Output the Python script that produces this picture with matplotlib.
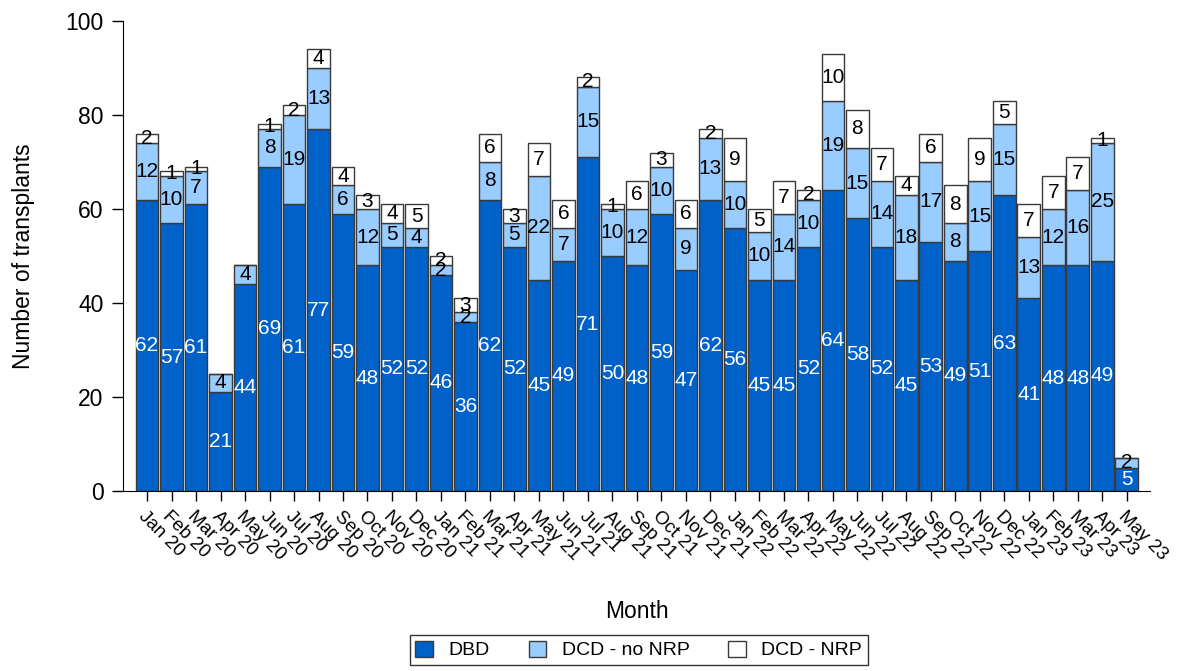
import numpy as np
import matplotlib.pyplot as plt

plt.rcParams['font.family'] = ['Liberation Sans', 'DejaVu Sans']

months = ['Jan 20', 'Feb 20', 'Mar 20', 'Apr 20', 'May 20', 'Jun 20', 'Jul 20', 'Aug 20',
          'Sep 20', 'Oct 20', 'Nov 20', 'Dec 20',
          'Jan 21', 'Feb 21', 'Mar 21', 'Apr 21', 'May 21', 'Jun 21', 'Jul 21', 'Aug 21',
          'Sep 21', 'Oct 21', 'Nov 21', 'Dec 21',
          'Jan 22', 'Feb 22', 'Mar 22', 'Apr 22', 'May 22', 'Jun 22', 'Jul 22', 'Aug 22',
          'Sep 22', 'Oct 22', 'Nov 22', 'Dec 22',
          'Jan 23', 'Feb 23', 'Mar 23', 'Apr 23', 'May 23']

dbd = [62, 57, 61, 21, 44, 69, 61, 77, 59, 48, 52, 52,
       46, 36, 62, 52, 45, 49, 71, 50, 48, 59, 47, 62,
       56, 45, 45, 52, 64, 58, 52, 45, 53, 49, 51, 63,
       41, 48, 48, 49, 5]
dcd_no_nrp = [12, 10, 7, 4, 4, 8, 19, 13, 6, 12, 5, 4,
              2, 2, 8, 5, 22, 7, 15, 10, 12, 10, 9, 13,
              10, 10, 14, 10, 19, 15, 14, 18, 17, 8, 15, 15,
              13, 12, 16, 25, 2]
dcd_nrp = [2, 1, 1, 0, 0, 1, 2, 4, 4, 3, 4, 5,
           2, 3, 6, 3, 7, 6, 2, 1, 6, 3, 6, 2,
           9, 5, 7, 2, 10, 8, 7, 4, 6, 8, 9, 5,
           7, 7, 7, 1, 0]

series = [('DBD', dbd, '#0061C9', 'white'),
          ('DCD - no NRP', dcd_no_nrp, '#99CCFF', 'black'),
          ('DCD - NRP', dcd_nrp, 'white', 'black')]

fig = plt.figure(figsize=(11.83, 6.71), dpi=100)
ax = fig.add_axes([0.104, 0.268, 0.868, 0.701])

x = np.arange(len(months))
bottom = np.zeros(len(months))
for name, vals, col, tcol in series:
    vals = np.array(vals, dtype=float)
    ax.bar(x, vals, 0.93, bottom=bottom, color=col, edgecolor='#3a3a3a',
           linewidth=1, label=name)
    for xi, v, b in zip(x, vals, bottom):
        if v > 0:
            ax.text(xi, b + v / 2, str(int(v)), ha='center', va='center',
                    color=tcol, fontsize=15)
    bottom += vals

ax.set_xlim(-0.98, len(months) - 0.06)
ax.set_ylim(0, 100)
ax.set_yticks([0, 20, 40, 60, 80, 100])
ax.tick_params(axis='y', labelsize=16.5, length=8, width=1, pad=6)
ax.tick_params(axis='x', length=7, width=1, pad=5)
ax.set_xticks(x)
ax.set_xticklabels(months, rotation=-45, ha='left', va='top', rotation_mode='anchor',
                   fontsize=13.5)
for s in ['top', 'right']:
    ax.spines[s].set_visible(False)

ax.set_ylabel('Number of transplants', fontsize=16.5, labelpad=22)
ax.set_xlabel('Month', fontsize=16.5, labelpad=26)

fig.legend(loc='lower center', bbox_to_anchor=(0.54, -0.006), ncol=3, fontsize=14,
           frameon=True, fancybox=False, edgecolor='black', handlelength=0.9,
           handleheight=0.9, borderpad=0.3, columnspacing=2.0, handletextpad=0.8)

plt.savefig('out.png')
